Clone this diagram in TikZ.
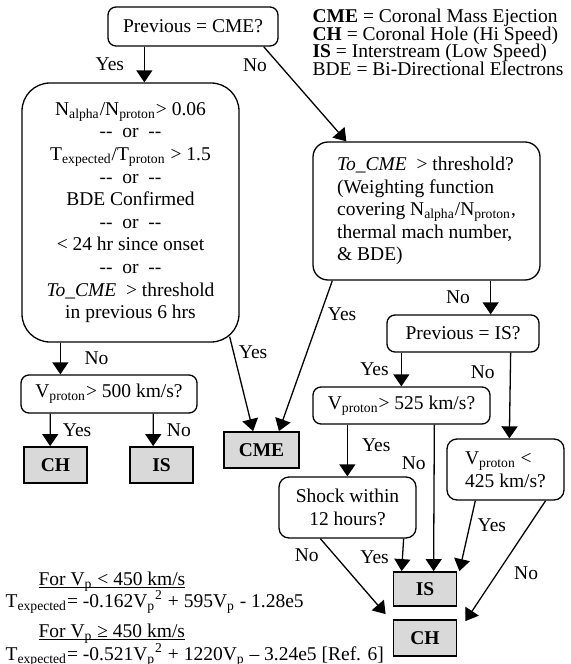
\documentclass[tikz,border=0pt]{standalone}
\usepackage{fontspec}
\setmainfont{Liberation Serif}
\usetikzlibrary{arrows.meta}
\definecolor{boxgray}{RGB}{217,217,217}
\newcommand\ulined[1]{\setbox0\hbox{#1}\rlap{\rule[-1.7pt]{\wd0}{0.5pt}}\box0}

\begin{document}
\begin{tikzpicture}[x=0.5pt,y=-0.5pt,
    font=\fontsize{9.75}{11.3}\selectfont,
    line width=0.65pt,
    decision/.style={draw,rounded corners=4pt,align=center,inner sep=2pt},
    outcome/.style={draw,fill=boxgray,line width=0.9pt,font=\fontsize{9.75}{11.3}\selectfont\bfseries,
        minimum width=31.5pt,minimum height=18pt,inner sep=0pt},
    arr/.style={-{Triangle[length=6pt,width=8pt]}}]
\useasboundingbox (0,0) rectangle (570,664);

% Decision boxes
\node[decision,minimum width=85pt,minimum height=19.5pt] (prevcme) at (193,26.5) {Previous = CME?};
\node[decision,rounded corners=14pt,minimum width=108.5pt,minimum height=129.5pt] (crit) at (130.5,212.5)
    {N\textsubscript{alpha}/N\textsubscript{proton}> 0.06\\-{}-\ \ or\ \ -{}-\\
     T\textsubscript{expected}/T\textsubscript{proton} > 1.5\\-{}-\ \ or\ \ -{}-\\
     BDE Confirmed\\-{}-\ \ or\ \ -{}-\\
     < 24 hr since onset\\-{}-\ \ or\ \ -{}-\\
     \textit{To\_CME}\ \ > threshold\\in previous 6 hrs};
\node[decision,minimum width=88pt,minimum height=19pt] (v500) at (109,394) {V\textsubscript{proton}> 500 km/s?};
\node[decision,rounded corners=7.5pt,align=left,minimum width=113.5pt,minimum height=69pt] (tocme) at (426.5,211)
    {\textit{To\_CME}\ \ > threshold?\\(Weighting function\\covering N\textsubscript{alpha}/N\textsubscript{proton},\\
     thermal mach number,\\\& BDE)};
\node[decision,minimum width=76pt,minimum height=18.5pt] (previs) at (463,333.5) {Previous = IS?};
\node[decision,minimum width=88.5pt,minimum height=18.5pt] (v525) at (401.5,405.5) {V\textsubscript{proton}> 525 km/s?};
\node[decision,rounded corners=5pt,align=left,minimum width=58.5pt,minimum height=30.5pt] (v425) at (505.5,469.5)
    {V\textsubscript{proton} <\\425 km/s?};
\node[decision,rounded corners=5pt,minimum width=68.5pt,minimum height=30.5pt] (shock) at (347.5,507.5)
    {Shock within\\12 hours?};

% Outcomes
\node[outcome] (ch1) at (55.5,465) {CH};
\node[outcome] (is1) at (161.5,465) {IS};
\node[outcome,minimum width=37.5pt] (cme) at (261.5,450) {CME};
\node[outcome,minimum height=17pt] (is2) at (425,589) {IS};
\node[outcome] (ch2) at (425,638) {CH};

% Legend
\node[align=left,anchor=north west,inner sep=0pt,
    font={\fontsize{9.75}{8.8}\selectfont\lineskiplimit=-10pt}] (legend) at (312,8.5)
    {\textbf{CME} = Coronal Mass Ejection\\\textbf{CH} = Coronal Hole (Hi Speed)\\
     \textbf{IS} = Interstream (Low Speed)\\BDE = Bi-Directional Electrons};

% Formulas
\node[anchor=base west,inner sep=0pt] (for1) at (38,585) {\ulined{For V\textsubscript{p} < 450 km/s}};
\node[anchor=base west,inner sep=0pt] (texp1) at (5,607)
    {T\textsubscript{expected}= -0.162V\textsubscript{p}\textsuperscript{2} + 595V\textsubscript{p} - 1.28e5};
\node[anchor=base west,inner sep=0pt] (for2) at (38,637) {\ulined{For V\textsubscript{p} ≥ 450 km/s}};
\node[anchor=base west,inner sep=0pt] (texp2) at (5,660)
    {T\textsubscript{expected}= -0.521V\textsubscript{p}\textsuperscript{2} + 1220V\textsubscript{p} -- 3.24e5 [Ref. 6]};

% Previous = CME?
\draw[arr] ([xshift=18.5pt]prevcme.south west) -- ([xshift=61.5pt]crit.north west) node[midway,left=6.5pt] (y1) {Yes};
\draw[arr] ([xshift=-7.5pt]prevcme.south east) -- ([xshift=17pt]tocme.north west) node[pos=0.2,left=3pt] (n1) {No};

% Criteria box
\draw[arr] ([xshift=19.5pt]crit.south west) -- ([xshift=20pt]v500.north west) node[midway,right=8.5pt] (n2) {No};
\draw[arr] ([xshift=-5pt,yshift=3pt]crit.south east) -- ([xshift=15pt]cme.north west) node[pos=0.17,right=-1pt] (y2) {Yes};

% V > 500
\draw[arr] ([xshift=15pt]v500.south west) -- ([xshift=13.5pt]ch1.north west) node[midway,right=2.7pt] (y3) {Yes};
\draw[arr] ([xshift=66.5pt]v500.south west) -- ([xshift=12pt]is1.north west) node[midway,right=3.2pt] (n3) {No};

% To_CME
\draw[arr] ([xshift=10pt]tocme.south west) -- ([xshift=-10.5pt]cme.north east) node[pos=0.22,right=0pt] (y4) {Yes};
\draw[arr] ([xshift=-25pt]tocme.south east) -- ([xshift=-24.5pt]previs.north east) node[midway,left=6.7pt] (n4) {No};

% Previous = IS?
\draw[arr] ([xshift=7.5pt]previs.south west) -- ([xshift=44.5pt]v525.north west) node[midway,left=2.7pt] (y5) {Yes};
\draw[arr] ([xshift=-14.5pt]previs.south east) -- ([xshift=31.5pt]v425.north west) node[pos=0.23,left=4.2pt] (n5) {No};

% V > 525
\draw[arr] ([xshift=17.5pt]v525.south west) -- ([xshift=34.5pt]shock.north west) node[pos=0.4,right=3.7pt] (y6) {Yes};
\draw[arr] ([xshift=61pt]v525.south west) -- ([xshift=20.5pt]is2.north west) node[pos=0.26,left=0.6pt] (n6) {No};

% V < 425
\draw[arr] ([xshift=14.5pt]v425.south west) -- ([xshift=1pt]is2.north east) node[pos=0.35,right=0.3pt] (y7) {Yes};
\draw[arr] ([xshift=-9.5pt]v425.south east) -- ([xshift=4pt,yshift=-1pt]ch2.north east) node[pos=0.6,right=4.7pt] (n7) {No};

% Shock
\draw[arr] ([xshift=-6.5pt]shock.south east) -- ([xshift=4.5pt]is2.north west) node[pos=0.56,left=3.2pt] (y8) {Yes};
\draw[arr] ([xshift=21pt]shock.south west) -- ([xshift=-3.5pt,yshift=2.5pt]ch2.north west) node[pos=0.22,left=4.4pt] (n8) {No};

\end{tikzpicture}
\end{document}
